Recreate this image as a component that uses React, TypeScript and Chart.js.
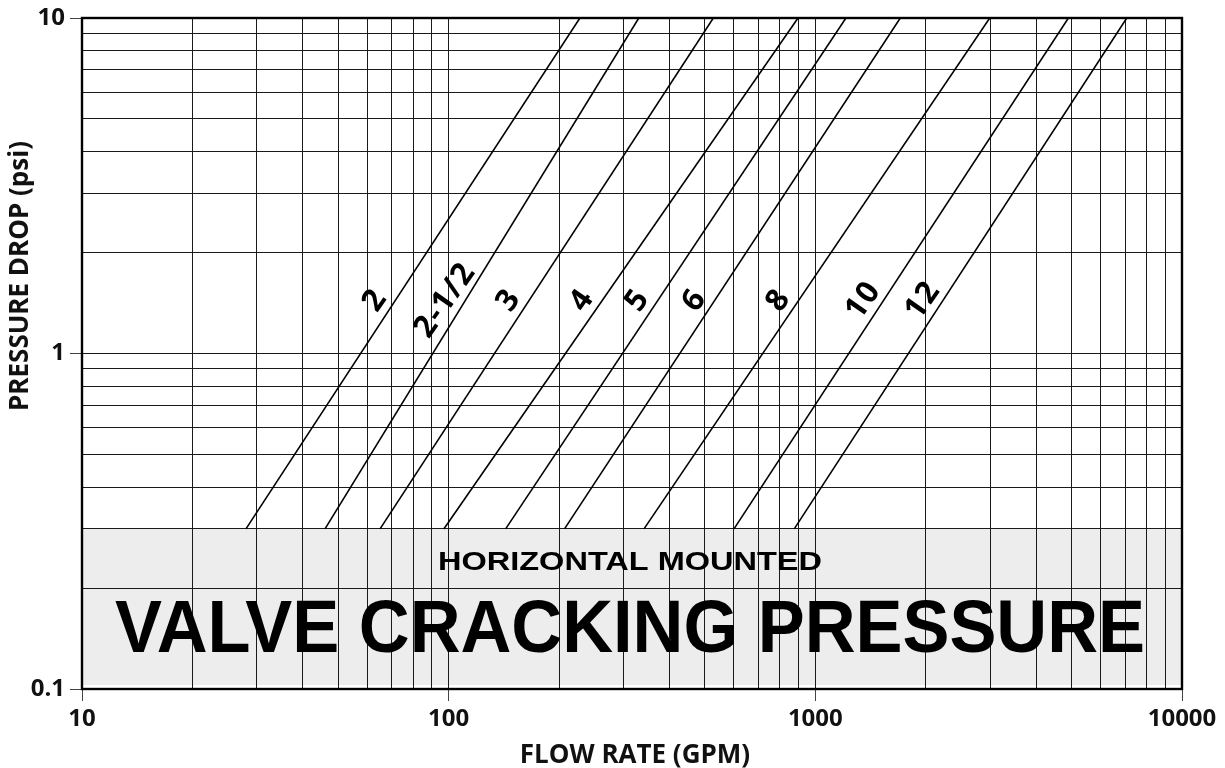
import React, { useEffect, useRef } from 'react';
import { Chart, registerables } from 'chart.js';

Chart.register(...registerables);

// Pipe sizes (inches) and the flow (GPM) at which each line meets the low / high pressure drop
const PIPE_SIZES = ['2', '2-1/2', '3', '4', '5', '6', '8', '10', '12'];
const FLOW_AT_LOW_DROP = [28, 46, 65, 97, 143, 207, 341, 600, 876];
const FLOW_AT_HIGH_DROP = [228, 330, 527, 897, 1212, 1705, 2990, 4900, 7070];
const LOW_DROP = 0.3;
const HIGH_DROP = 10;

// Axis ticks
const X_TICKS = [
  10, 20, 30, 40, 50, 60, 70, 80, 90,
  100, 200, 300, 400, 500, 600, 700, 800, 900,
  1000, 2000, 3000, 4000, 5000, 6000, 7000, 8000, 9000,
  10000,
];
const Y_TICKS = [
  0.1, 0.2, 0.3, 0.4, 0.5, 0.6, 0.7, 0.8, 0.9,
  1, 2, 3, 4, 5, 6, 7, 8, 9,
  10,
];
const X_LABELED = [10, 100, 1000, 10000];
const Y_LABELED = [0.1, 1, 10];

// Shaded cracking-pressure band
const BAND_MIN = 0.1;
const BAND_MAX = 0.3;
const LABEL_DROP = 1.44;

const BAND_SUBTITLE = 'HORIZONTAL MOUNTED';
const BAND_TITLE = 'VALVE CRACKING PRESSURE';
const X_TITLE = 'FLOW RATE (GPM)';
const Y_TITLE = 'PRESSURE DROP (psi)';

function drawFitted(ctx: CanvasRenderingContext2D, text: string, cx: number, baseline: number, font: string, width: number) {
  ctx.save();
  ctx.font = font;
  ctx.textAlign = 'center';
  ctx.textBaseline = 'alphabetic';
  const w = ctx.measureText(text).width;
  ctx.translate(cx, baseline);
  ctx.scale(width / w, 1);
  ctx.fillStyle = '#000';
  ctx.fillText(text, 0, 0);
  ctx.restore();
}

const overlay = {
  id: 'overlay',
  beforeDraw(chart: any) {
    const { ctx, chartArea: ca, scales } = chart;
    const y = scales.y;
    const top = y.getPixelForValue(BAND_MAX);
    const bottom = Math.min(y.getPixelForValue(BAND_MIN), ca.bottom) - 4;
    ctx.save();
    ctx.fillStyle = '#ededed';
    ctx.fillRect(ca.left, top, ca.right - ca.left, bottom - top);
    ctx.restore();
  },
  afterDatasetsDraw(chart: any) {
    const { ctx, scales } = chart;
    const yPix = scales.y.getPixelForValue(LABEL_DROP);
    chart.data.datasets.forEach((ds: any, i: number) => {
      const meta = chart.getDatasetMeta(i);
      const p0 = meta.data[0];
      const p1 = meta.data[1];
      const t = (p0.y - yPix) / (p0.y - p1.y);
      const xPix = p0.x + t * (p1.x - p0.x) - 20;
      ctx.save();
      ctx.translate(xPix, yPix);
      ctx.rotate((-55 * Math.PI) / 180);
      ctx.font = 'bold 31px "Open Sans"';
      (ctx as any).letterSpacing = '1.5px';
      ctx.textAlign = 'center';
      ctx.textBaseline = 'middle';
      ctx.fillStyle = '#000';
      ctx.fillText(ds.label, 0, 0);
      ctx.restore();
    });
  },
  afterDraw(chart: any) {
    const { ctx, chartArea: ca } = chart;
    const cx = (ca.left + ca.right) / 2 - 2;
    drawFitted(ctx, BAND_SUBTITLE, cx, 570, 'bold 25.6px "Liberation Sans"', 384);
    drawFitted(ctx, BAND_TITLE, cx, 652, 'bold 73.6px "Liberation Sans"', 1030);

    // plot frame
    ctx.save();
    ctx.strokeStyle = '#000';
    ctx.lineWidth = 2.4;
    ctx.strokeRect(ca.left, ca.top, ca.right - ca.left, ca.bottom - ca.top);
    ctx.restore();

    // axis titles
    ctx.save();
    ctx.fillStyle = '#111';
    ctx.font = 'bold 26px "Open Sans"';
    ctx.textAlign = 'center';
    ctx.textBaseline = 'alphabetic';
    ctx.fillText(X_TITLE, (ca.left + ca.right) / 2 + 3, 763);
    ctx.translate(28, 276);
    ctx.rotate(-Math.PI / 2);
    ctx.fillText(Y_TITLE, 0, 0);
    ctx.restore();
  },
};

export default function App() {
  const ref = useRef<HTMLCanvasElement>(null);

  useEffect(() => {
    const canvas = ref.current;
    if (!canvas) return;
    const tickFont = { family: 'Open Sans', size: 24, weight: 'bold' as any, lineHeight: 1 };
    const chart = new Chart(canvas, {
      type: 'line',
      data: {
        datasets: PIPE_SIZES.map((s, i) => ({
          label: s,
          data: [
            { x: FLOW_AT_LOW_DROP[i], y: LOW_DROP },
            { x: FLOW_AT_HIGH_DROP[i], y: HIGH_DROP },
          ],
          borderColor: '#000',
          borderWidth: 1.6,
          pointRadius: 0,
          fill: false,
          tension: 0,
        })),
      },
      options: {
        responsive: false,
        animation: false,
        events: [],
        layout: { padding: { top: 18, right: 43, left: 0, bottom: 0 } },
        plugins: {
          legend: { display: false },
          tooltip: { enabled: false },
          title: { display: false },
        },
        scales: {
          x: {
            type: 'logarithmic',
            position: 'bottom',
            min: 10,
            max: 10000,
            afterBuildTicks: (s: any) => {
              s.ticks = X_TICKS.map((v) => ({ value: v }));
            },
            afterFit: (s: any) => {
              s.height = 79;
            },
            ticks: {
              autoSkip: false,
              maxRotation: 0,
              minRotation: 0,
              padding: 6,
              color: '#111',
              font: tickFont,
              callback: (v: any) => (X_LABELED.includes(Number(v)) ? String(v) : ''),
            },
            grid: {
              color: '#1a1a1a',
              lineWidth: 1,
              drawTicks: true,
              tickLength: 12,
              tickWidth: 1,
              tickColor: (c: any) => (c.tick && X_LABELED.includes(c.tick.value) ? '#444' : 'rgba(0,0,0,0)'),
            },
            border: { display: false },
            title: { display: false },
          },
          y: {
            type: 'logarithmic',
            position: 'left',
            min: 0.1,
            max: 10,
            afterBuildTicks: (s: any) => {
              s.ticks = Y_TICKS.map((v) => ({ value: v }));
            },
            afterFit: (s: any) => {
              s.width = 82;
            },
            ticks: {
              autoSkip: false,
              padding: 5,
              color: '#111',
              font: tickFont,
              callback: (v: any) => (Y_LABELED.includes(Number(v)) ? String(v) : ''),
            },
            grid: {
              color: '#1a1a1a',
              lineWidth: 1,
              drawTicks: true,
              tickLength: 12,
              tickWidth: 1,
              tickColor: (c: any) => (c.tick && Y_LABELED.includes(c.tick.value) ? '#444' : 'rgba(0,0,0,0)'),
            },
            border: { display: false },
            title: { display: false },
          },
        },
      } as any,
      plugins: [overlay],
    });
    return () => chart.destroy();
  }, []);

  return (
    <div style={{ position: 'absolute', left: 0, top: 0, width: 1225, height: 768, background: '#fff' }}>
      <canvas ref={ref} width={1225} height={768} style={{ display: 'block' }} />
    </div>
  );
}
